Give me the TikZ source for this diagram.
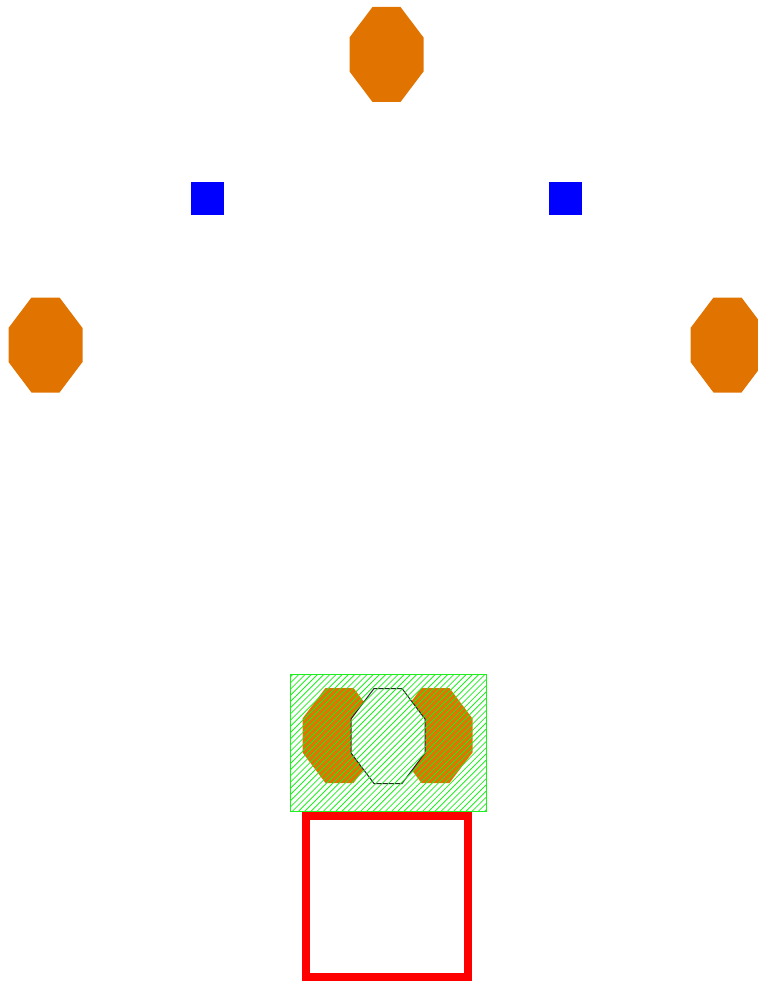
\documentclass[tikz,border=0pt]{standalone}
\definecolor{octorange}{RGB}{225,115,0}
\definecolor{sqblue}{RGB}{0,0,255}
\definecolor{hatchgreen}{RGB}{30,240,30}
\definecolor{boxred}{RGB}{255,0,0}
\newcommand{\octagonat}[2]{(#1-14,#2-47.5) -- (#1+14,#2-47.5) -- (#1+37,#2-17) -- (#1+37,#2+17) -- (#1+14,#2+47.5) -- (#1-14,#2+47.5) -- (#1-37,#2+17) -- (#1-37,#2-17) -- cycle}
\tikzset{
  orangeoct/.style={fill=octorange, draw=none},
  bluesq/.style={fill=sqblue, draw=none},
  hollowoct/.style={fill=white, draw=black!85, line width=1pt},
  hatchline/.style={draw=hatchgreen, line width=0.8pt},
  hatchbox/.style={draw=hatchgreen, line width=1pt},
  redbox/.style={draw=boxred, line width=8pt}
}
\begin{document}
\begin{tikzpicture}[x=1pt,y=-1pt]
\useasboundingbox (0,0) rectangle (757,981);
% top and side octagons
\fill[orangeoct] \octagonat{386.5}{54.5};
\fill[orangeoct] \octagonat{45.5}{345};
\fill[orangeoct] \octagonat{727.5}{345};
% blue squares
\fill[bluesq] (191,182) rectangle (224,215);
\fill[bluesq] (549,182) rectangle (582,215);
% group inside hatched box
\fill[orangeoct] \octagonat{339.5}{735.5};
\fill[orangeoct] \octagonat{435.5}{735.5};
\filldraw[hollowoct] \octagonat{388}{736};
\begin{scope}
  \clip (290,674) rectangle (486,811);
  \foreach \k in {0,...,56} {
    \draw[hatchline] (150+\k*6.2,811) -- ++(140,-140);
  }
\end{scope}
\draw[hatchbox] (290,674) rectangle (486,811);
% red square
\draw[redbox] (306,816) rectangle (468,977);
\end{tikzpicture}
\end{document}
